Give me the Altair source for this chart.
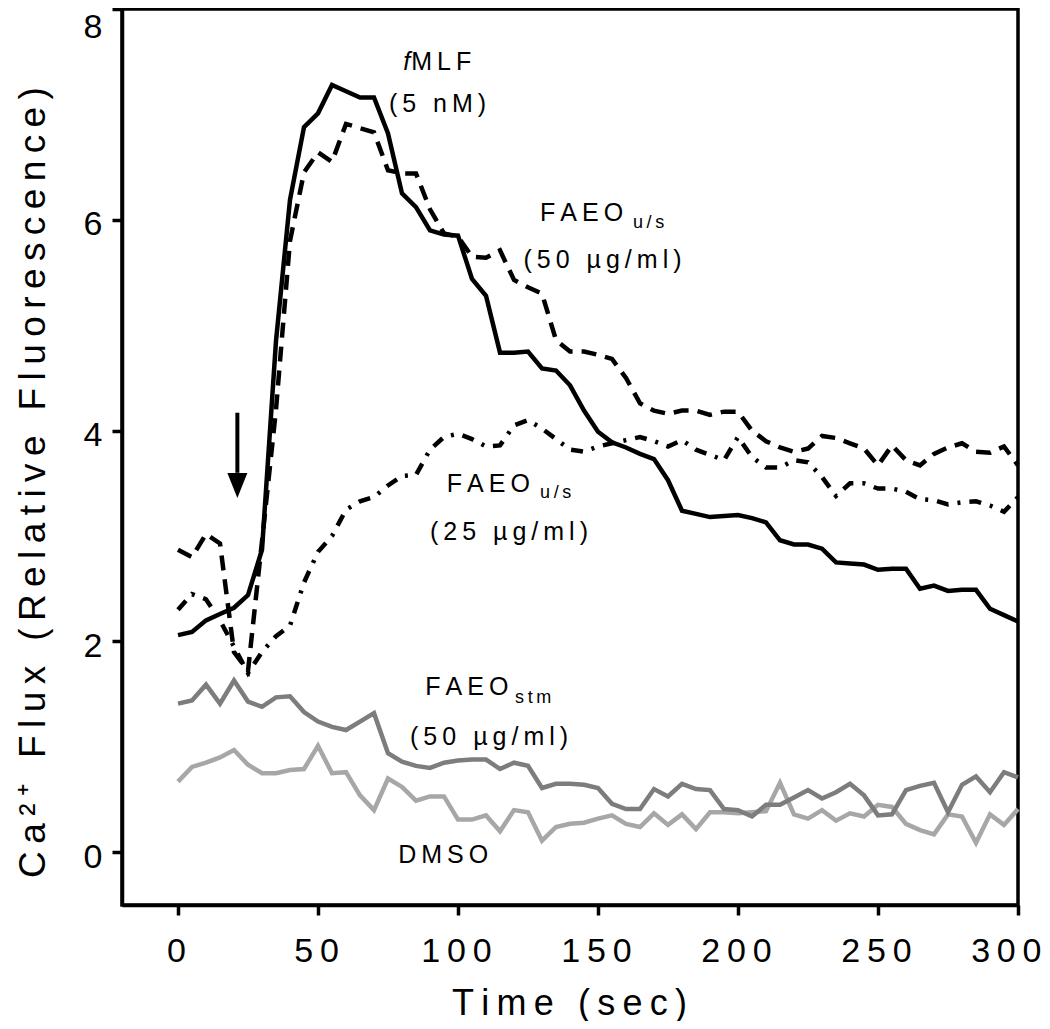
import altair as alt
import pandas as pd

# ---------------- data ----------------
time_s = list(range(0, 301, 5))

fmlf = [2.06, 2.09, 2.20, 2.26, 2.32, 2.44, 2.87, 4.85, 6.19, 6.88,
        7.01, 7.28, 7.22, 7.16, 7.16, 6.82, 6.25, 6.12, 5.90, 5.86,
        5.85, 5.44, 5.28, 4.74, 4.74, 4.75, 4.59, 4.57, 4.43, 4.19,
        3.99, 3.89, 3.84, 3.78, 3.73, 3.53, 3.24, 3.21, 3.18, 3.19,
        3.20, 3.17, 3.13, 2.96, 2.92, 2.92, 2.88, 2.75, 2.74, 2.73,
        2.68, 2.69, 2.69, 2.50, 2.53, 2.48, 2.49, 2.49, 2.31, 2.25, 2.19]

faeo_us_50 = [2.87, 2.80, 3.02, 2.93, 1.90, 1.72, 2.95, 4.20, 5.80, 6.45,
              6.64, 6.55, 6.91, 6.87, 6.83, 6.47, 6.44, 6.44, 6.10, 5.87,
              5.84, 5.65, 5.64, 5.71, 5.43, 5.36, 5.30, 4.86, 4.75, 4.75,
              4.72, 4.68, 4.50, 4.26, 4.19, 4.16, 4.19, 4.19, 4.15, 4.18,
              4.18, 4.00, 3.90, 3.84, 3.80, 3.83, 3.95, 3.93, 3.88, 3.83,
              3.67, 3.86, 3.72, 3.67, 3.78, 3.84, 3.88, 3.80, 3.79, 3.85, 3.67]

faeo_us_25 = [2.30, 2.45, 2.40, 2.20, 1.95, 1.70, 1.90, 2.05, 2.15, 2.56,
              2.85, 3.00, 3.25, 3.33, 3.37, 3.48, 3.57, 3.58, 3.82, 3.94,
              3.97, 3.92, 3.85, 3.86, 4.05, 4.10, 4.02, 3.92, 3.82, 3.80,
              3.85, 3.88, 3.91, 3.94, 3.90, 3.85, 3.91, 3.82, 3.77, 3.72,
              3.94, 3.75, 3.65, 3.65, 3.72, 3.70, 3.56, 3.38, 3.50, 3.50,
              3.45, 3.45, 3.42, 3.35, 3.34, 3.30, 3.32, 3.33, 3.29, 3.23, 3.37]

faeo_stm = [1.41, 1.44, 1.59, 1.41, 1.63, 1.43, 1.38, 1.47, 1.48, 1.33,
            1.24, 1.19, 1.16, 1.24, 1.32, 0.94, 0.86, 0.82, 0.80, 0.85,
            0.87, 0.88, 0.88, 0.79, 0.85, 0.82, 0.61, 0.65, 0.65, 0.64,
            0.61, 0.46, 0.41, 0.41, 0.60, 0.53, 0.65, 0.60, 0.59, 0.41,
            0.40, 0.34, 0.45, 0.45, 0.52, 0.59, 0.51, 0.57, 0.65, 0.54,
            0.35, 0.36, 0.59, 0.63, 0.66, 0.38, 0.64, 0.72, 0.57, 0.76, 0.71]

dmso = [0.67, 0.81, 0.85, 0.90, 0.97, 0.83, 0.75, 0.75, 0.78, 0.79,
        1.01, 0.75, 0.76, 0.54, 0.40, 0.70, 0.62, 0.49, 0.53, 0.53,
        0.31, 0.31, 0.35, 0.20, 0.40, 0.38, 0.11, 0.24, 0.27, 0.28,
        0.32, 0.35, 0.27, 0.24, 0.37, 0.26, 0.36, 0.22, 0.38, 0.38,
        0.37, 0.38, 0.39, 0.66, 0.36, 0.32, 0.40, 0.30, 0.37, 0.34,
        0.45, 0.43, 0.27, 0.21, 0.17, 0.36, 0.34, 0.09, 0.36, 0.26, 0.41]

x_ticks = [0, 50, 100, 150, 200, 250, 300]
y_ticks = [0, 2, 4, 6, 8]

TS = "\u2009"  # thin space used to imitate the letter spacing of the figure


def spaced(s):
    return TS.join(list(s))


# annotation labels (data coordinates of their anchors)
lab_left_text = ["MLF", "FAEO", "u/s", "FAEO", "u/s", "FAEO", "stm"]
lab_left_t = [83.3, 129.3, 162.5, 96.0, 129.3, 88.3, 120.4]
lab_left_v = [7.42, 5.99, 5.92, 3.42, 3.365, 1.49, 1.42]
lab_left_fs = [25, 25, 18, 25, 18, 25, 18]

lab_mid_text = ["(5 nM)", "(50 µg/ml)", "(25 µg/ml)", "(50 µg/ml)", "DMSO"]
lab_mid_t = [92.7, 151.6, 118.2, 111.1, 94.7]
lab_mid_v = [7.02, 5.54, 2.96, 1.015, -0.10]

arrow_t = [21.2]
arrow_top = [4.17]
arrow_bottom = [3.60]
arrow_head = [3.48]

# ---------------- tables ----------------
series = {
    "fMLF": fmlf,
    "FAEO u/s 50": faeo_us_50,
    "FAEO u/s 25": faeo_us_25,
    "FAEO stm 50": faeo_stm,
    "DMSO": dmso,
}
rows = []
for name, vals in series.items():
    for t, v in zip(time_s, vals):
        rows.append({"t": t, "v": v, "series": name})
df = pd.DataFrame(rows)

df_left = pd.DataFrame({"t": lab_left_t, "v": lab_left_v,
                        "text": [spaced(s) for s in lab_left_text],
                        "fs": lab_left_fs})
df_mid = pd.DataFrame({"t": lab_mid_t, "v": lab_mid_v,
                       "text": [spaced(s) for s in lab_mid_text]})
df_f = pd.DataFrame({"t": [83.3], "v": [7.42], "text": ["f"]})
df_arrow = pd.DataFrame({"t": arrow_t, "v": arrow_top, "v2": arrow_bottom,
                         "vh": arrow_head})

FONT = "Liberation Sans"
x_scale = alt.Scale(domain=[-20, 300], nice=False, zero=False)
y_scale = alt.Scale(domain=[-0.5, 8], nice=False, zero=False)

x_title = spaced("Time") + TS + " " + TS + spaced("(sec)")
y_title = (spaced("Ca²⁺") + TS + " " + TS + spaced("Flux") + TS + " " + TS
           + spaced("(Relative") + TS + " " + TS + spaced("Fluorescence)"))

x_enc = alt.X(
    "t:Q", scale=x_scale,
    axis=alt.Axis(
        values=x_ticks, title=x_title,
        grid=False, domainColor="black", domainWidth=3.5, tickColor="black",
        tickWidth=3.5, tickSize=10, labelFont=FONT, labelFontSize=34,
        labelColor="black", labelPadding=19,
        labelExpr="join(split(datum.label, ''), '\u2009')",
        labelAlign={"condition": {"test": "datum.value === 300", "value": "right"},
                    "value": "center"},
        labelOffset={"condition": {"test": "datum.value === 300", "value": 23},
                     "value": -2},
        titleFont=FONT, titleFontSize=36, titleFontWeight="normal",
        titleColor="black", titleBaseline="alphabetic", titleX=447,
        titleY=109, titleAnchor="middle",
    ),
)
y_enc = alt.Y(
    "v:Q", scale=y_scale,
    axis=alt.Axis(
        values=y_ticks, format="d", title=y_title,
        grid=False, domainColor="black", domainWidth=3.5, tickColor="black",
        tickWidth=3.5, tickSize=10, labelFont=FONT, labelFontSize=34,
        labelColor="black", labelPadding=10,
        labelOffset={"condition": {"test": "datum.value === 8", "value": 18},
                     "value": 5},
        titleFont=FONT, titleFontSize=37, titleFontWeight="normal",
        titleColor="black", titleBaseline="alphabetic", titleX=-78,
        titleY=473, titleAngle=270, titleAnchor="middle",
    ),
)

base = alt.Chart(df)


def line(name, color, dash=None):
    kw = dict(color=color, strokeWidth=4.5, strokeJoin="miter")
    if dash:
        kw["strokeDash"] = dash
    return base.transform_filter(alt.datum.series == name).mark_line(**kw).encode(
        x=x_enc, y=y_enc, order="t:Q")


lines = [
    line("DMSO", "#a7a7a9"),
    line("FAEO stm 50", "#7d7d7d"),
    line("FAEO u/s 25", "black", [12, 9, 3, 9]),
    line("FAEO u/s 50", "black", [15, 9]),
    line("fMLF", "black"),
]

txt_left = alt.Chart(df_left).mark_text(
    align="left", baseline="alphabetic", font=FONT, color="black"
).encode(x=x_enc, y=y_enc, text="text:N", size=alt.Size("fs:Q", scale=None))

txt_mid = alt.Chart(df_mid).mark_text(
    align="center", baseline="alphabetic", font=FONT, color="black", fontSize=25
).encode(x=x_enc, y=y_enc, text="text:N")

txt_f = alt.Chart(df_f).mark_text(
    align="right", baseline="alphabetic", font=FONT, color="black",
    fontSize=25, fontStyle="italic", dx=-1
).encode(x=x_enc, y=y_enc, text="text:N")

arrow_shaft = alt.Chart(df_arrow).mark_rule(color="black", strokeWidth=4).encode(
    x=x_enc, y=y_enc, y2="v2:Q")
arrow_tip = alt.Chart(df_arrow).mark_point(
    shape="M-1,-1.25L1,-1.25L0,1.25Z", filled=True, color="black", opacity=1,
    size=400, strokeWidth=0
).encode(x=x_enc, y=alt.Y("vh:Q", scale=y_scale))

chart = alt.layer(
    *lines, txt_left, txt_mid, txt_f, arrow_shaft, arrow_tip
).properties(
    width=896, height=896,
    autosize=alt.AutoSizeParams(type="none"),
    padding={"left": 114, "top": 1, "right": 24, "bottom": 116},
    background="white",
).configure_view(stroke="black", strokeWidth=3.5)

chart.save("out.html", embed_options={"renderer": "svg", "actions": False})
